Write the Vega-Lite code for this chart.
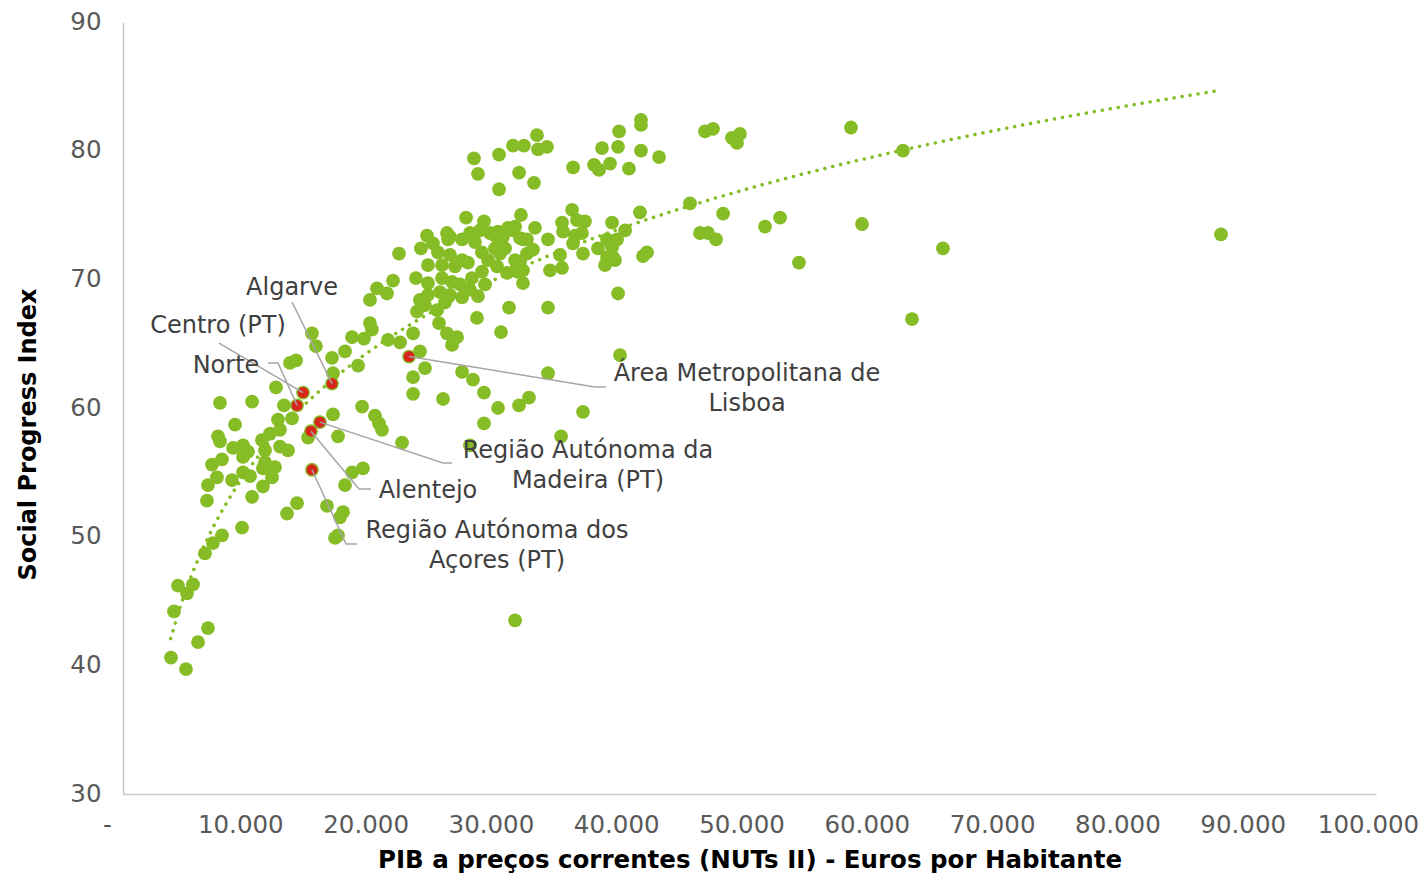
{
  "$schema": "https://vega.github.io/schema/vega-lite/v6.json",
  "width": 1253,
  "height": 772,
  "autosize": {"type": "none"},
  "padding": {"left": 123, "top": 22, "right": 46, "bottom": 80},
  "background": "white",
  "config": {"view": {"stroke": null}, "font": "DejaVu Sans"},
  "datasets": {
    "pontos": [
      {"pib": 3830, "spi": 40.6}, {"pib": 5030, "spi": 39.7}, {"pib": 4070, "spi": 44.2}, {"pib": 4390, "spi": 46.2},
      {"pib": 5590, "spi": 46.3}, {"pib": 5110, "spi": 45.6}, {"pib": 5990, "spi": 41.8}, {"pib": 6780, "spi": 42.9},
      {"pib": 6540, "spi": 48.7}, {"pib": 7180, "spi": 49.5}, {"pib": 7900, "spi": 50.1}, {"pib": 6700, "spi": 52.8},
      {"pib": 6780, "spi": 54.0}, {"pib": 7500, "spi": 54.6}, {"pib": 8700, "spi": 54.4}, {"pib": 7100, "spi": 55.6},
      {"pib": 7900, "spi": 56.0}, {"pib": 7580, "spi": 57.8}, {"pib": 7740, "spi": 57.4}, {"pib": 8940, "spi": 58.7},
      {"pib": 7740, "spi": 60.4}, {"pib": 10300, "spi": 60.5}, {"pib": 8780, "spi": 56.9}, {"pib": 9580, "spi": 57.1},
      {"pib": 9980, "spi": 56.6}, {"pib": 9580, "spi": 56.2}, {"pib": 9500, "spi": 50.7}, {"pib": 10300, "spi": 53.1},
      {"pib": 11170, "spi": 53.9}, {"pib": 9580, "spi": 55.0}, {"pib": 10140, "spi": 54.7}, {"pib": 11170, "spi": 55.3},
      {"pib": 12130, "spi": 55.4}, {"pib": 11890, "spi": 54.6}, {"pib": 11330, "spi": 55.8}, {"pib": 11090, "spi": 57.5},
      {"pib": 11730, "spi": 58.0}, {"pib": 12530, "spi": 58.3}, {"pib": 12370, "spi": 59.1}, {"pib": 13490, "spi": 59.2},
      {"pib": 12850, "spi": 60.2}, {"pib": 11330, "spi": 56.7}, {"pib": 12530, "spi": 57.0}, {"pib": 13170, "spi": 56.7},
      {"pib": 12210, "spi": 61.6}, {"pib": 13330, "spi": 63.5}, {"pib": 13810, "spi": 63.7},
      {"pib": 14770, "spi": 57.7}, {"pib": 17160, "spi": 57.8}, {"pib": 16760, "spi": 59.5}, {"pib": 18280, "spi": 55.0},
      {"pib": 17720, "spi": 54.0}, {"pib": 19150, "spi": 55.3}, {"pib": 13890, "spi": 52.6}, {"pib": 13090, "spi": 51.8},
      {"pib": 16280, "spi": 52.4}, {"pib": 17560, "spi": 51.9}, {"pib": 17320, "spi": 51.5}, {"pib": 16920, "spi": 49.9},
      {"pib": 17160, "spi": 50.1}, {"pib": 19080, "spi": 60.1}, {"pib": 20110, "spi": 59.4}, {"pib": 20430, "spi": 58.8},
      {"pib": 20670, "spi": 58.3}, {"pib": 22270, "spi": 57.3}, {"pib": 15080, "spi": 65.8}, {"pib": 15400, "spi": 64.8},
      {"pib": 16680, "spi": 63.9}, {"pib": 17720, "spi": 64.4}, {"pib": 16760, "spi": 62.7}, {"pib": 18760, "spi": 63.3},
      {"pib": 18280, "spi": 65.5}, {"pib": 19230, "spi": 65.4}, {"pib": 19710, "spi": 66.6}, {"pib": 19870, "spi": 66.1},
      {"pib": 19710, "spi": 68.4}, {"pib": 20270, "spi": 69.3}, {"pib": 21070, "spi": 68.9}, {"pib": 21550, "spi": 69.9},
      {"pib": 21150, "spi": 65.3}, {"pib": 22110, "spi": 65.1}, {"pib": 23150, "spi": 65.8},
      {"pib": 23700, "spi": 64.4}, {"pib": 24100, "spi": 63.1}, {"pib": 23150, "spi": 62.4}, {"pib": 23150, "spi": 61.1},
      {"pib": 25540, "spi": 60.7}, {"pib": 27060, "spi": 62.8}, {"pib": 27930, "spi": 62.2}, {"pib": 33920, "spi": 62.7},
      {"pib": 28810, "spi": 61.2}, {"pib": 29930, "spi": 60.0}, {"pib": 31610, "spi": 60.2}, {"pib": 32400, "spi": 60.8},
      {"pib": 28810, "spi": 58.8}, {"pib": 36710, "spi": 59.7}, {"pib": 34960, "spi": 57.8}, {"pib": 27690, "spi": 57.1},
      {"pib": 31290, "spi": 43.5}, {"pib": 39670, "spi": 64.1}, {"pib": 25220, "spi": 66.6}, {"pib": 25860, "spi": 65.8},
      {"pib": 26660, "spi": 65.5}, {"pib": 26260, "spi": 64.9}, {"pib": 23460, "spi": 67.5}, {"pib": 28250, "spi": 67.0},
      {"pib": 30170, "spi": 65.9}, {"pib": 30810, "spi": 67.8}, {"pib": 33920, "spi": 67.8}, {"pib": 22030, "spi": 72.0},
      {"pib": 23780, "spi": 72.4}, {"pib": 24260, "spi": 73.4}, {"pib": 23380, "spi": 70.1}, {"pib": 24100, "spi": 68.0},
      {"pib": 27380, "spi": 74.8}, {"pib": 28810, "spi": 74.5}, {"pib": 25140, "spi": 72.1}, {"pib": 25940, "spi": 73.1},
      {"pib": 27060, "spi": 73.1}, {"pib": 28090, "spi": 72.9}, {"pib": 29690, "spi": 73.4}, {"pib": 30730, "spi": 74.0},
      {"pib": 31690, "spi": 73.2}, {"pib": 26100, "spi": 71.9}, {"pib": 27060, "spi": 71.5}, {"pib": 24340, "spi": 71.1},
      {"pib": 25460, "spi": 71.1}, {"pib": 26500, "spi": 71.0}, {"pib": 27530, "spi": 71.3}, {"pib": 28650, "spi": 72.1},
      {"pib": 29690, "spi": 72.4}, {"pib": 30490, "spi": 72.4}, {"pib": 29130, "spi": 71.5}, {"pib": 28650, "spi": 70.6},
      {"pib": 24340, "spi": 69.7}, {"pib": 25460, "spi": 70.1}, {"pib": 26260, "spi": 69.8}, {"pib": 27850, "spi": 70.1},
      {"pib": 28890, "spi": 69.6}, {"pib": 24340, "spi": 68.8}, {"pib": 25300, "spi": 69.0}, {"pib": 26100, "spi": 68.8},
      {"pib": 27060, "spi": 68.6}, {"pib": 25700, "spi": 68.2}, {"pib": 31450, "spi": 71.0}, {"pib": 25860, "spi": 73.6},
      {"pib": 28490, "spi": 73.8}, {"pib": 27690, "spi": 73.6}, {"pib": 24740, "spi": 72.8}, {"pib": 31130, "spi": 73.8},
      {"pib": 31920, "spi": 73.1}, {"pib": 32240, "spi": 72.0}, {"pib": 32720, "spi": 72.3}, {"pib": 31290, "spi": 71.5},
      {"pib": 31920, "spi": 70.7}, {"pib": 31920, "spi": 69.7}, {"pib": 29850, "spi": 71.0}, {"pib": 30090, "spi": 72.0},
      {"pib": 30650, "spi": 70.5}, {"pib": 25060, "spi": 67.6}, {"pib": 23700, "spi": 68.4}, {"pib": 26900, "spi": 69.6},
      {"pib": 27690, "spi": 69.2}, {"pib": 28330, "spi": 68.7},
      {"pib": 31760, "spi": 75.0}, {"pib": 35840, "spi": 75.4}, {"pib": 36230, "spi": 74.6}, {"pib": 35040, "spi": 74.4},
      {"pib": 35120, "spi": 73.7}, {"pib": 36870, "spi": 74.5}, {"pib": 36070, "spi": 73.4}, {"pib": 35920, "spi": 72.8},
      {"pib": 39030, "spi": 74.4}, {"pib": 40070, "spi": 73.8}, {"pib": 38630, "spi": 73.1}, {"pib": 37910, "spi": 72.4},
      {"pib": 38630, "spi": 71.7}, {"pib": 39270, "spi": 71.5}, {"pib": 38470, "spi": 71.1}, {"pib": 36710, "spi": 72.0},
      {"pib": 34880, "spi": 71.9}, {"pib": 34080, "spi": 70.7}, {"pib": 35040, "spi": 70.9}, {"pib": 31690, "spi": 71.4},
      {"pib": 31450, "spi": 70.6}, {"pib": 30090, "spi": 72.9}, {"pib": 30330, "spi": 73.3}, {"pib": 39510, "spi": 68.9},
      {"pib": 41260, "spi": 75.2}, {"pib": 41500, "spi": 71.8}, {"pib": 41820, "spi": 72.1}, {"pib": 32880, "spi": 74.0},
      {"pib": 32240, "spi": 73.1}, {"pib": 33920, "spi": 73.1}, {"pib": 31290, "spi": 74.1}, {"pib": 29290, "spi": 73.6},
      {"pib": 29930, "spi": 73.7}, {"pib": 39110, "spi": 72.8}, {"pib": 39430, "spi": 73.1}, {"pib": 39030, "spi": 72.5},
      {"pib": 39110, "spi": 71.7}, {"pib": 36630, "spi": 73.6}, {"pib": 26100, "spi": 73.3},
      {"pib": 28010, "spi": 79.4}, {"pib": 28330, "spi": 78.2}, {"pib": 30010, "spi": 79.7}, {"pib": 30010, "spi": 77.0},
      {"pib": 31130, "spi": 80.4}, {"pib": 32000, "spi": 80.4}, {"pib": 33040, "spi": 81.2}, {"pib": 33120, "spi": 80.1},
      {"pib": 33840, "spi": 80.3}, {"pib": 31610, "spi": 78.3}, {"pib": 32800, "spi": 77.5}, {"pib": 35920, "spi": 78.7},
      {"pib": 37590, "spi": 78.9}, {"pib": 37990, "spi": 78.5}, {"pib": 38870, "spi": 79.0}, {"pib": 38230, "spi": 80.2},
      {"pib": 39590, "spi": 81.5}, {"pib": 39510, "spi": 80.3}, {"pib": 40380, "spi": 78.6}, {"pib": 41340, "spi": 82.4},
      {"pib": 41340, "spi": 82.0}, {"pib": 41340, "spi": 80.0}, {"pib": 42780, "spi": 79.5}, {"pib": 46450, "spi": 81.5},
      {"pib": 47090, "spi": 81.7}, {"pib": 48600, "spi": 81.0}, {"pib": 49240, "spi": 81.3}, {"pib": 49000, "spi": 80.6},
      {"pib": 58100, "spi": 81.8}, {"pib": 62250, "spi": 80.0},
      {"pib": 45250, "spi": 75.9}, {"pib": 47890, "spi": 75.1}, {"pib": 46050, "spi": 73.6}, {"pib": 46690, "spi": 73.6},
      {"pib": 47330, "spi": 73.1}, {"pib": 51240, "spi": 74.1}, {"pib": 52440, "spi": 74.8}, {"pib": 58980, "spi": 74.3},
      {"pib": 65440, "spi": 72.4}, {"pib": 53950, "spi": 71.3}, {"pib": 62970, "spi": 66.9}, {"pib": 87630, "spi": 73.5},
      {"pib": 13890, "spi": 60.2, "regiao": "Norte"},
      {"pib": 14370, "spi": 61.2, "regiao": "Centro (PT)"},
      {"pib": 16680, "spi": 61.9, "regiao": "Algarve"},
      {"pib": 22830, "spi": 64.0, "regiao": "Área Metropolitana de Lisboa"},
      {"pib": 15720, "spi": 58.9, "regiao": "Região Autónoma da Madeira (PT)"},
      {"pib": 15000, "spi": 58.2, "regiao": "Alentejo"},
      {"pib": 15080, "spi": 55.2, "regiao": "Região Autónoma dos Açores (PT)"}
    ],
    "rotulos": [
      {"texto": "Algarve", "pib": 13490, "spi": 69.35},
      {"texto": "Centro (PT)", "pib": 7580, "spi": 66.4},
      {"texto": "Norte", "pib": 8220, "spi": 63.28},
      {"texto": "Área Metropolitana de\nLisboa", "pib": 49800, "spi": 62.62},
      {"texto": "Região Autónoma da\nMadeira (PT)", "pib": 37110, "spi": 56.64},
      {"texto": "Alentejo", "pib": 24340, "spi": 53.58},
      {"texto": "Região Autónoma dos\nAçores (PT)", "pib": 29850, "spi": 50.42}
    ],
    "guias": [
      {"regiao": "Algarve", "passo": 1, "pib": 13490, "spi": 68.24},
      {"regiao": "Algarve", "passo": 2, "pib": 16680, "spi": 61.9},
      {"regiao": "Centro", "passo": 1, "pib": 7660, "spi": 65.05},
      {"regiao": "Centro", "passo": 2, "pib": 14370, "spi": 61.2},
      {"regiao": "Norte", "passo": 1, "pib": 11570, "spi": 63.5},
      {"regiao": "Norte", "passo": 2, "pib": 12370, "spi": 63.5},
      {"regiao": "Norte", "passo": 3, "pib": 13890, "spi": 60.2},
      {"regiao": "Lisboa", "passo": 1, "pib": 22830, "spi": 64.0},
      {"regiao": "Lisboa", "passo": 2, "pib": 37670, "spi": 61.63},
      {"regiao": "Lisboa", "passo": 3, "pib": 38550, "spi": 61.63},
      {"regiao": "Madeira", "passo": 1, "pib": 15720, "spi": 58.9},
      {"regiao": "Madeira", "passo": 2, "pib": 25540, "spi": 55.73},
      {"regiao": "Madeira", "passo": 3, "pib": 26260, "spi": 55.73},
      {"regiao": "Alentejo", "passo": 1, "pib": 15000, "spi": 58.2},
      {"regiao": "Alentejo", "passo": 2, "pib": 18840, "spi": 53.7},
      {"regiao": "Alentejo", "passo": 3, "pib": 19790, "spi": 53.7},
      {"regiao": "Acores", "passo": 1, "pib": 15080, "spi": 55.2},
      {"regiao": "Acores", "passo": 2, "pib": 17800, "spi": 49.43},
      {"regiao": "Acores", "passo": 3, "pib": 18680, "spi": 49.43}
    ]
  },
  "encoding": {
    "x": {
      "field": "pib",
      "type": "quantitative",
      "scale": {"domain": [0, 100000], "nice": false, "zero": false},
      "axis": {
        "title": "PIB a preços correntes (NUTs II) - Euros por Habitante",
        "values": [0, 10000, 20000, 30000, 40000, 50000, 60000, 70000, 80000, 90000, 100000],
        "labelExpr": "datum.value == 0 ? '-' : replace(format(datum.value, ','), ',', '.')",
        "grid": false,
        "ticks": false,
        "tickSize": 0,
        "domainColor": "#C8C8C8",
        "domainWidth": 1.5,
        "labelFont": "DejaVu Sans",
        "labelFontSize": 24.5,
        "labelColor": "#595959",
        "labelPadding": 19,
        "labelOffset": {"condition": {"test": "datum.value == 0", "value": -16}, "value": -8},
        "labelFlush": false,
        "labelOverlap": false,
        "titleFont": "DejaVu Sans",
        "titleFontSize": 24.5,
        "titleFontWeight": "bold",
        "titleColor": "#000000",
        "titleY": 54,
        "titleBaseline": "top"
      }
    },
    "y": {
      "field": "spi",
      "type": "quantitative",
      "scale": {"domain": [30, 90], "nice": false, "zero": false},
      "axis": {
        "title": "Social Progress Index",
        "values": [30, 40, 50, 60, 70, 80, 90],
        "grid": false,
        "ticks": false,
        "tickSize": 0,
        "domainColor": "#C8C8C8",
        "domainWidth": 1.5,
        "labelFont": "DejaVu Sans",
        "labelFontSize": 24.5,
        "labelColor": "#595959",
        "labelPadding": 22,
        "labelFlush": false,
        "labelOverlap": false,
        "titleFont": "DejaVu Sans",
        "titleFontSize": 24,
        "titleFontWeight": "bold",
        "titleColor": "#000000",
        "titleAngle": -90,
        "titleAlign": "center",
        "titleBaseline": "bottom",
        "titleX": -83,
        "titleY": 412
      }
    }
  },
  "layer": [
    {
      "data": {"name": "pontos"},
      "mark": {"type": "circle", "size": 190, "color": "#86BC25", "opacity": 1}
    },
    {
      "data": {"name": "pontos"},
      "transform": [{"regression": "spi", "on": "pib", "method": "log", "extent": [3800, 87600]}],
      "mark": {"type": "line", "color": "#86BC25", "strokeWidth": 3.5, "strokeDash": [0.1, 8], "strokeCap": "round"}
    },
    {
      "data": {"name": "pontos"},
      "transform": [{"filter": "isValid(datum.regiao)"}],
      "mark": {"type": "circle", "size": 120, "color": "#D9261C", "opacity": 1}
    },
    {
      "data": {"name": "guias"},
      "mark": {"type": "line", "color": "#A6A6A6", "strokeWidth": 1.5},
      "encoding": {
        "detail": {"field": "regiao", "type": "nominal"},
        "order": {"field": "passo", "type": "quantitative"}
      }
    },
    {
      "data": {"name": "rotulos"},
      "mark": {"type": "text", "font": "DejaVu Sans", "fontSize": 24, "color": "#404040", "lineBreak": "\n", "lineHeight": 30, "align": "center", "baseline": "middle"},
      "encoding": {"text": {"field": "texto", "type": "nominal"}}
    }
  ]
}
